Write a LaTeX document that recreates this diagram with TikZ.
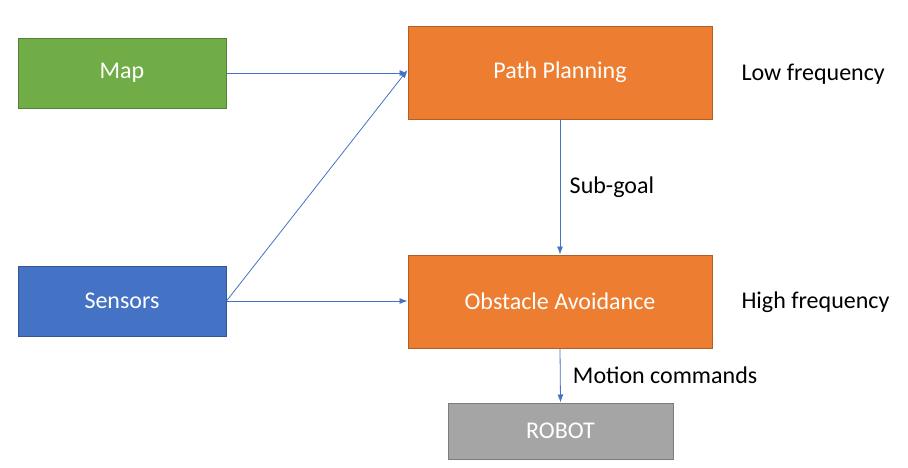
\documentclass[tikz,border=0pt]{standalone}
\usepackage{fontspec}
\setmainfont{Carlito}
\usepackage{tikz}
\usetikzlibrary{arrows.meta, positioning}

\definecolor{mapgreen}{HTML}{70AD47}
\definecolor{sensorblue}{HTML}{4472C4}
\definecolor{planorange}{HTML}{ED7D31}
\definecolor{robotgray}{HTML}{A5A5A5}

\begin{document}
\begin{tikzpicture}[
		x=1pt, y=-1pt,
		every node/.style={font=\fontsize{24}{28}\selectfont},
		block/.style={rectangle, draw, line width=1pt, inner sep=0pt, text=white, text centered},
		input/.style={block, minimum width=208pt, minimum height=70pt},
		layer/.style={block, minimum width=304pt, minimum height=93pt, fill=planorange, draw=planorange!75!black},
		arrow/.style={-{Latex[length=8pt, width=6pt]}, draw=sensorblue, line width=0.8pt}
		]
		\useasboundingbox (0,0) rectangle (908,467);
		
		% Nodes
		\node[input, fill=mapgreen, draw=mapgreen!75!black] (map) at (122,73) {Map};
		\node[input, fill=sensorblue, draw=sensorblue!75!black] (sensors) at (122,301) {Sensors};
		\node[layer] (planning) at (560,72.5) {Path Planning};
		\node[layer] (avoidance) at (560,301.5) {Obstacle Avoidance};
		\node[block, fill=robotgray, draw=robotgray!75!black, minimum width=225pt, minimum height=56pt] (robot) at (560.5,431) {ROBOT};
		
		% Frequency labels
		\node[anchor=west] (low) at (738,74) {Low frequency};
		\node[anchor=west] (high) at (738,302) {High frequency};
		
		% Connection arrows
		\draw[arrow] (map.east) -- (planning.west |- map.east);
		\draw[arrow] (sensors.east) -- ([yshift=3pt]planning.west |- map.east);
		\draw[arrow] (sensors.east) -- (avoidance.west |- sensors.east);
		\draw[arrow] (planning.south) -- node[right=6pt] {Sub-goal} (avoidance.north);
		\draw[arrow] (avoidance.south) -- node[right=9pt, pos=0.5] {Motion commands} (robot.north);
		
	\end{tikzpicture}
\end{document}
